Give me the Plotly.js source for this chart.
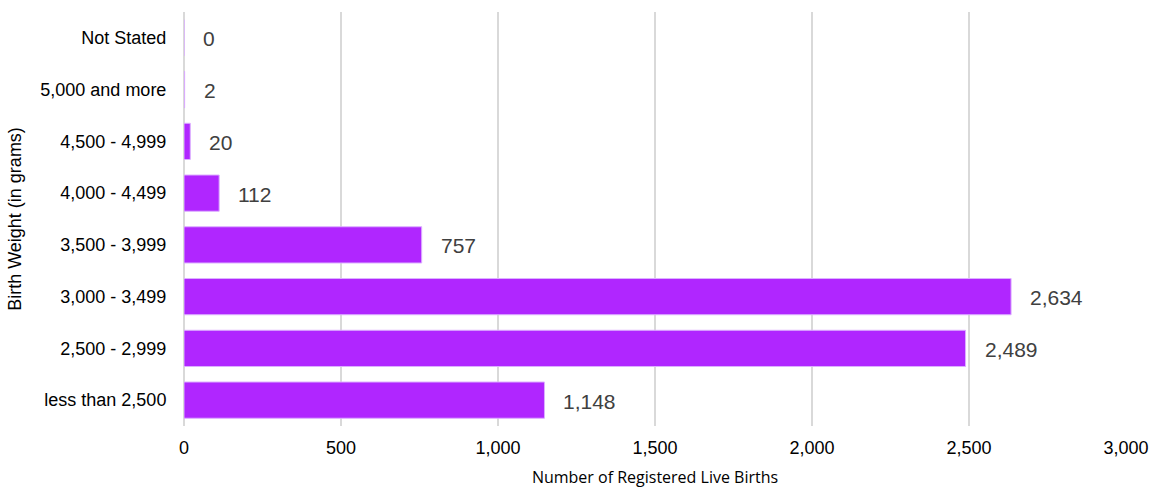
<!DOCTYPE html>
<html>
<head>
<meta charset="utf-8">
<script src="https://cdn.plot.ly/plotly-3.0.1.min.js"></script>
<style>html,body{margin:0;padding:0;background:#fff;}#chart{width:1158px;height:488px;}</style>
</head>
<body>
<div id="chart"></div>
<script>
const categories = ["less than 2,500", "2,500 - 2,999", "3,000 - 3,499", "3,500 - 3,999", "4,000 - 4,499", "4,500 - 4,999", "5,000 and more", "Not Stated"];
const births = [1148, 2489, 2634, 757, 112, 20, 2, 0];
const xTickVals = [0, 500, 1000, 1500, 2000, 2500, 3000];

const trace = {
  type: 'bar',
  orientation: 'h',
  y: categories,
  x: births,
  width: 0.7,
  marker: {color: '#b026ff', line: {color: '#dcb0ff', width: 1}},
  hoverinfo: 'x+y'
};

const annotations = births.map((v, i) => ({
  x: v, y: categories[i], xref: 'x', yref: 'y',
  text: v.toLocaleString('en-US'),
  showarrow: false, xanchor: 'left', xshift: 17, yshift: -1,
  font: {family: 'Liberation Sans, Arial, sans-serif', size: 21, color: '#404040'}
}));

const layout = {
  width: 1158, height: 488,
  margin: {l: 184, r: 32, t: 12, b: 62},
  paper_bgcolor: '#ffffff', plot_bgcolor: '#ffffff',
  showlegend: false,
  xaxis: {
    range: [0, 3000],
    tickvals: xTickVals,
    tickformat: ',d',
    showgrid: true, gridcolor: '#d9d9d9', gridwidth: 2,
    zeroline: true, zerolinecolor: '#d9d9d9', zerolinewidth: 2,
    showline: false,
    ticks: 'outside', ticklen: 5, tickcolor: 'rgba(0,0,0,0)',
    tickfont: {family: 'Liberation Sans, Arial, sans-serif', size: 18, color: '#000'},
    title: {text: 'Number of Registered Live Births', standoff: 18,
      font: {family: 'Open Sans, sans-serif', size: 16, color: '#000'}},
    fixedrange: true
  },
  yaxis: {
    categoryorder: 'array', categoryarray: categories,
    range: [-0.5, 7.5],
    showgrid: false, zeroline: false, showline: false,
    ticks: 'outside', ticklen: 13, tickcolor: 'rgba(0,0,0,0)',
    tickfont: {family: 'Liberation Sans, Arial, sans-serif', size: 18, color: '#000'},
    title: {text: 'Birth Weight (in grams)', standoff: 14,
      font: {family: 'Liberation Sans, Arial, sans-serif', size: 18, color: '#000'}},
    fixedrange: true
  },
  annotations: annotations
};

Plotly.newPlot('chart', [trace], layout, {displayModeBar: false, staticPlot: true});
</script>
</body>
</html>
